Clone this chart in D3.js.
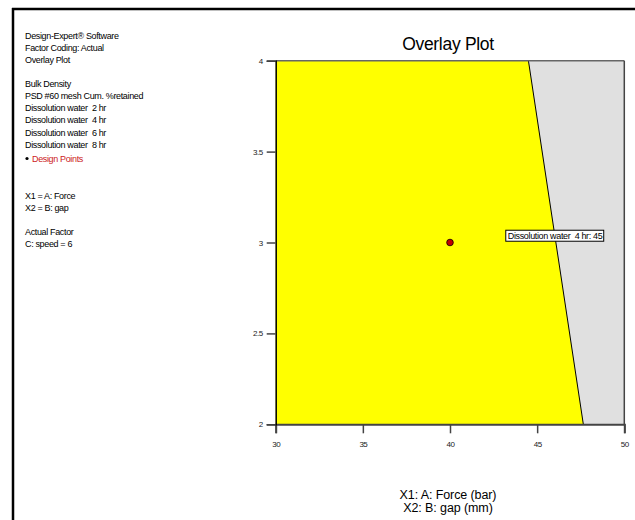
<!DOCTYPE html>
<html>
<head>
<meta charset="utf-8">
<script src="https://cdn.jsdelivr.net/npm/d3@7"></script>
<style>
  html, body { margin: 0; padding: 0; background: #fff; }
  svg text { font-family: "Liberation Sans", Arial, sans-serif; white-space: pre; }
</style>
</head>
<body>
<svg id="chart" width="635" height="520"></svg>
<script>
// Factor ranges and ticks
const xDomain = [30, 50];
const yDomain = [2, 4];
const xTicks = [30, 35, 40, 45, 50];
const yTicks = [2, 2.5, 3, 3.5, 4];

// Contour boundary (Dissolution water 4 hr = 45) across the gap range
const boundaryForce = [44.5, 47.65];
const boundaryGap = [4, 2];

// Design point (Force, gap)
const designForce = [40];
const designGap = [3];

// Flag label on the boundary
const flagText = "Dissolution water  4 hr: 45";
const flagPos = [43.2, 3.04];

// Side legend text
const infoHeader = ["Design-Expert\u00AE Software", "Factor Coding: Actual", "Overlay Plot"];
const responses = ["Bulk Density", "PSD #60 mesh Cum. %retained", "Dissolution water  2 hr",
  "Dissolution water  4 hr", "Dissolution water  6 hr", "Dissolution water  8 hr"];
const factorLines = ["X1 = A: Force", "X2 = B: gap"];
const actualLines = ["Actual Factor", "C: speed = 6"];

const svg = d3.select("#chart");

// outer frame (top and left rules)
svg.append("line").attr("x1", 12).attr("x2", 635).attr("y1", 9).attr("y2", 9)
  .attr("stroke", "#000").attr("stroke-width", 2.5);
svg.append("line").attr("x1", 13).attr("x2", 13).attr("y1", 8).attr("y2", 520)
  .attr("stroke", "#000").attr("stroke-width", 2.5);

const plot = { left: 275.7, right: 624.3, top: 60.7, bottom: 424.3 };
const x = d3.scaleLinear().domain(xDomain).range([plot.left, plot.right]);
const y = d3.scaleLinear().domain(yDomain).range([plot.bottom, plot.top]);

// regions: infeasible grey background, feasible yellow polygon
svg.append("rect")
  .attr("x", x(xDomain[0])).attr("y", y(yDomain[1]))
  .attr("width", x(xDomain[1]) - x(xDomain[0]))
  .attr("height", y(yDomain[0]) - y(yDomain[1]))
  .attr("fill", "#e0e0e0");

const feasible = [
  [xDomain[0], yDomain[1]],
  [boundaryForce[0], boundaryGap[0]],
  [boundaryForce[1], boundaryGap[1]],
  [xDomain[0], yDomain[0]]
];
svg.append("path")
  .attr("d", d3.line().x(d => x(d[0])).y(d => y(d[1]))(feasible) + "Z")
  .attr("fill", "#ffff00");

svg.append("line")
  .attr("x1", x(boundaryForce[0])).attr("y1", y(boundaryGap[0]))
  .attr("x2", x(boundaryForce[1])).attr("y2", y(boundaryGap[1]))
  .attr("stroke", "#000").attr("stroke-width", 1);

// plot border
svg.append("line").attr("x1", plot.left).attr("x2", plot.right).attr("y1", plot.top).attr("y2", plot.top)
  .attr("stroke", "#666").attr("stroke-width", 1.5);
svg.append("line").attr("x1", plot.right).attr("x2", plot.right).attr("y1", plot.top).attr("y2", plot.bottom)
  .attr("stroke", "#444").attr("stroke-width", 1.5);

// axes
const xAxis = d3.axisBottom(x).tickValues(xTicks).tickSize(9).tickPadding(8).tickFormat(d3.format("d"));
const yAxis = d3.axisLeft(y).tickValues(yTicks).tickSize(9).tickPadding(4).tickFormat(d => String(d));

const gx = svg.append("g").attr("transform", `translate(0,${plot.bottom})`).call(xAxis);
gx.select(".domain").attr("stroke", "#444").attr("stroke-width", 2);
gx.selectAll(".tick line").attr("stroke", "#444").attr("stroke-width", 1.5);
gx.selectAll(".tick text").attr("font-size", 8).attr("fill", "#222")
  .attr("font-family", "Liberation Sans Narrow, Liberation Sans, sans-serif")
  .attr("letter-spacing", -0.5);

const gy = svg.append("g").attr("transform", `translate(${plot.left},0)`).call(yAxis);
gy.select(".domain").attr("stroke", "#000").attr("stroke-width", 1.5);
gy.selectAll(".tick line").attr("stroke", "#444").attr("stroke-width", 1.5);
gy.selectAll(".tick text").attr("font-size", 8).attr("fill", "#222")
  .attr("font-family", "Liberation Sans Narrow, Liberation Sans, sans-serif")
  .attr("letter-spacing", -0.5);

// design point
svg.selectAll("circle.dp").data(designForce.map((f, i) => [f, designGap[i]])).enter()
  .append("circle").attr("class", "dp")
  .attr("cx", d => x(d[0])).attr("cy", d => y(d[1])).attr("r", 3.3)
  .attr("fill", "#c00000").attr("stroke", "#200").attr("stroke-width", 0.9);

// flag label
const flag = svg.append("g");
const flagText1 = flag.append("text")
  .attr("x", x(flagPos[0]) + 2).attr("y", y(flagPos[1]) + 3.5)
  .attr("font-size", 9).attr("letter-spacing", -0.35).attr("fill", "#000")
  .text(flagText);
const bb = flagText1.node().getBBox();
flag.insert("rect", "text")
  .attr("x", bb.x - 2).attr("y", bb.y - 0.5)
  .attr("width", bb.width + 3).attr("height", bb.height + 1)
  .attr("fill", "#fff").attr("stroke", "#000").attr("stroke-width", 1);

// title
svg.append("text").attr("x", 448).attr("y", 49.5).attr("text-anchor", "middle")
  .attr("font-size", 17.5).attr("fill", "#000").attr("letter-spacing", -0.3).text("Overlay Plot");

// axis titles
svg.append("text").attr("x", 448).attr("y", 498.5).attr("text-anchor", "middle")
  .attr("font-size", 12.5).attr("letter-spacing", -0.1).attr("fill", "#000").text("X1: A: Force (bar)");
svg.append("text").attr("x", 448).attr("y", 511.5).attr("text-anchor", "middle")
  .attr("font-size", 12.5).attr("letter-spacing", -0.1).attr("fill", "#000").text("X2: B: gap (mm)");

// side legend
const legend = svg.append("g").attr("font-size", 9).attr("letter-spacing", -0.35).attr("fill", "#000");
function block(lines, y0) {
  lines.forEach((t, i) => {
    legend.append("text").attr("x", 25).attr("y", y0 + i * 12.3).text(t);
  });
}
block(infoHeader, 38.5);
block(responses, 86.5);
legend.append("circle").attr("cx", 27).attr("cy", 158.5).attr("r", 1.6).attr("fill", "#000");
legend.append("text").attr("x", 32).attr("y", 161.8).attr("fill", "#cc2222").text("Design Points");
block(factorLines, 198.8);
block(actualLines, 235);
</script>
</body>
</html>
